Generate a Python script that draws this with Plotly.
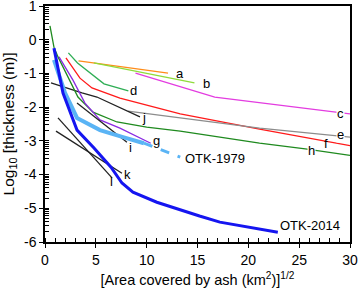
import numpy as np
import plotly.graph_objects as go

# ---- data (x = sqrt(area) km, y = log10 thickness m) ----
a_x = [3.3, 12.1]
a_y = [-0.63, -0.99]
b_x = [4.8, 14.7]
b_y = [-0.69, -1.28]
c_x = [8.9, 16.7, 30.0]
c_y = [-0.99, -1.70, -2.20]
d_x = [2.3, 3.2, 5.8, 8.2]
d_y = [-0.39, -0.69, -1.31, -1.52]
f_x = [2.06, 3.44, 4.62, 7.37, 13.3, 21.1, 30.0]
f_y = [-0.54, -1.14, -1.43, -1.73, -2.20, -2.65, -3.14]
e_x = [8.16, 21.1, 30.0]
e_y = [-2.12, -2.62, -2.89]
j_x = [0.59, 3.64, 5.11, 9.34]
j_y = [-1.28, -1.58, -1.70, -2.29]
h_x = [0.49, 0.88, 1.28, 3.24, 4.72, 7.08, 10.0, 13.3, 21.1, 25.6, 30.0]
h_y = [0.41, -0.22, -0.51, -1.70, -2.15, -2.44, -2.59, -2.71, -3.07, -3.24, -3.43]
g_x = [1.38, 2.75, 3.93, 5.41, 7.37, 10.4]
g_y = [-0.51, -1.20, -1.88, -2.38, -2.62, -3.07]
i_x = [3.15, 8.06]
i_y = [-1.88, -3.04]
k_x = [1.08, 7.57]
k_y = [-2.71, -3.96]
l_x = [1.28, 6.59]
l_y = [-2.32, -4.10]
otk1979_x = [0.88, 1.97, 3.15, 5.41, 7.67, 9.73]
otk1979_y = [-0.60, -1.58, -2.32, -2.68, -2.89, -3.07]
otk1979_ext_x = [9.73, 13.3]
otk1979_ext_y = [-3.07, -3.48]
otk2014_x = [0.88, 1.77, 3.15, 4.82, 6.49, 7.57, 8.65, 11.0, 15.2, 17.2, 22.9]
otk2014_y = [-0.25, -1.58, -2.68, -3.21, -3.78, -4.25, -4.52, -4.82, -5.23, -5.41, -5.71]

x_ticks = [0, 5, 10, 15, 20, 25, 30]
y_ticks = [-6, -5, -4, -3, -2, -1, 0, 1]

fig = go.Figure()

def add(x, y, color, width=1.3, dash="solid"):
    fig.add_trace(go.Scatter(x=x, y=y, mode="lines",
                             line=dict(color=color, width=width, dash=dash),
                             showlegend=False, hoverinfo="skip"))

add(a_x, a_y, "#FF8C1A")
add(b_x, b_y, "#8FDB3A")
add(c_x, c_y, "#E33CE0")
add(d_x, d_y, "#2FAE55")
add(f_x, f_y, "#FF1A1A")
add(e_x, e_y, "#8C8C8C")
add(j_x, j_y, "#222222")
add(h_x, h_y, "#1F8A1F")
add(g_x, g_y, "#8A2BE2")
add(i_x, i_y, "#222222")
add(k_x, k_y, "#222222")
add(l_x, l_y, "#222222")
add(otk1979_x, otk1979_y, "#5AB4F5", width=4)
add(otk1979_ext_x, otk1979_ext_y, "#5AB4F5", width=3, dash="dash")
add(otk2014_x, otk2014_y, "#1515F0", width=3)

font = dict(family="Liberation Sans, Arial, sans-serif", size=13, color="black")

labels = [
    ("a", 12.8, -0.99, "left", None),
    ("b", 15.4, -1.31, "left", None),
    ("c", 29.1, -2.18, "center", "white"),
    ("d", 8.75, -1.52, "center", None),
    ("e", 29.1, -2.82, "center", "white"),
    ("f", 27.6, -3.08, "center", None),
    ("h", 26.2, -3.30, "center", "white"),
    ("j", 9.75, -2.32, "center", None),
    ("g", 11.0, -3.0, "center", None),
    ("i", 8.45, -3.21, "center", None),
    ("k", 8.16, -3.99, "center", None),
    ("l", 6.5, -4.22, "center", None),
    ("OTK-1979", 13.7, -3.51, "left", None),
    ("OTK-2014", 23.0, -5.50, "left", None),
]
for t, x, y, al, bg in labels:
    fig.add_annotation(x=x, y=y, text=t, showarrow=False, xanchor=al,
                       yanchor="middle", font=font,
                       bgcolor=bg if bg else "rgba(0,0,0,0)", borderpad=0)

y_minor = [n + np.log10(k) for n in range(-6, 1) for k in range(1, 10)]

fig.update_layout(
    width=359, height=288,
    margin=dict(l=45, r=9, t=6, b=46),
    plot_bgcolor="white", paper_bgcolor="white",
    font=font,
    xaxis=dict(range=[0, 30], tickmode="array", tickvals=x_ticks,
               ticktext=[str(v) for v in x_ticks], automargin=False,
               ticklabeloverflow="allow",
               showgrid=False, zeroline=False, showline=True, mirror=True,
               linecolor="black", linewidth=1.5,
               ticks="outside", ticklen=4, tickwidth=1.2, tickcolor="black",
               tickfont=dict(size=14),
               minor=dict(tickmode="linear", tick0=0, dtick=1, ticks="inside",
                          ticklen=4, tickwidth=1, tickcolor="black", showgrid=False),
               title=dict(text="[Area covered by ash (km<sup>2</sup>)]<sup>1/2</sup>",
                          font=dict(size=14.5))),
    yaxis=dict(range=[-6, 1], tickmode="array", tickvals=y_ticks,
               ticktext=[str(v) for v in y_ticks], automargin=False,
               ticklabeloverflow="allow",
               showgrid=False, zeroline=False, showline=True, mirror=True,
               linecolor="black", linewidth=1.5,
               ticks="outside", ticklen=4, tickwidth=1.2, tickcolor="black",
               tickfont=dict(size=14),
               minor=dict(tickmode="array", tickvals=y_minor, ticks="inside",
                          ticklen=4, tickwidth=1, tickcolor="black", showgrid=False),
               title=dict(text="Log<sub>10</sub> [thickness (m)]",
                          font=dict(size=15.5))),
)

fig.write_html("out.html", config={"displayModeBar": False},
               post_script="document.body.style.margin='0';")
